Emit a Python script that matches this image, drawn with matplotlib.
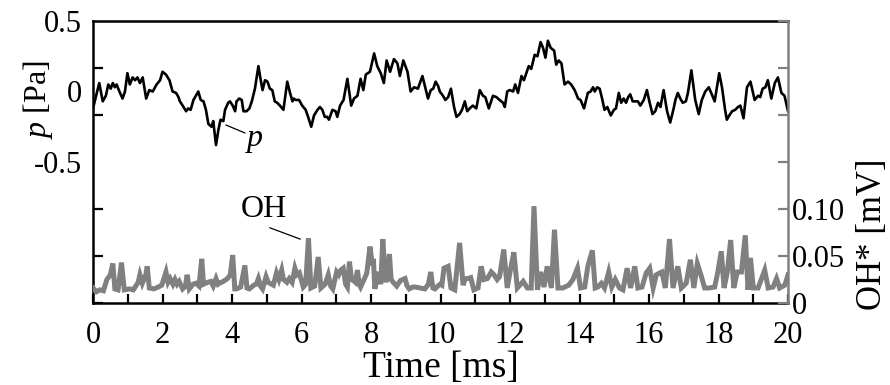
import numpy as np
import matplotlib
matplotlib.use("Agg")
import matplotlib.pyplot as plt

plt.rcParams['font.family'] = ['Liberation Serif', 'DejaVu Serif']
plt.rcParams['mathtext.fontset'] = 'custom'
plt.rcParams['mathtext.it'] = 'Liberation Serif:italic'
plt.rcParams['mathtext.rm'] = 'Liberation Serif'

# pressure trace p [Pa]
p_time = [0.00, 0.18, 0.28, 0.37, 0.44, 0.51, 0.57, 0.63, 0.68, 0.76, 0.85, 0.92, 0.99, 1.06, 1.14, 1.21,
          1.28, 1.35, 1.43, 1.53, 1.62, 1.72, 1.83, 1.93, 2.00, 2.10, 2.20, 2.29, 2.39, 2.46, 2.50, 2.58,
          2.68, 2.74, 2.81, 2.89, 2.96, 3.03, 3.10, 3.18, 3.25, 3.32, 3.41, 3.46, 3.54, 3.61, 3.67, 3.75,
          3.80, 3.89, 3.94, 4.02, 4.09, 4.13, 4.21, 4.28, 4.33, 4.42, 4.50, 4.57, 4.66, 4.76, 4.82, 4.88,
          4.95, 5.02, 5.09, 5.16, 5.23, 5.30, 5.38, 5.48, 5.59, 5.67, 5.74, 5.78, 5.83, 5.93, 6.02, 6.12,
          6.19, 6.28, 6.36, 6.46, 6.53, 6.60, 6.67, 6.74, 6.79, 6.89, 6.98, 7.03, 7.11, 7.21, 7.32, 7.43,
          7.51, 7.61, 7.70, 7.78, 7.85, 7.97, 8.09, 8.18, 8.28, 8.37, 8.45, 8.55, 8.66, 8.76, 8.83, 8.93,
          9.05, 9.14, 9.24, 9.35, 9.48, 9.57, 9.64, 9.72, 9.79, 9.86, 9.93, 9.98, 10.07, 10.14, 10.22, 10.30,
          10.39, 10.46, 10.55, 10.62, 10.70, 10.77, 10.84, 10.93, 11.03, 11.13, 11.22, 11.29, 11.39, 11.51,
          11.61, 11.70, 11.80, 11.85, 11.92, 11.99, 12.09, 12.15, 12.23, 12.33, 12.40, 12.47, 12.54, 12.61,
          12.71, 12.79, 12.88, 12.95, 13.02, 13.09, 13.17, 13.27, 13.33, 13.40, 13.48, 13.57, 13.67, 13.76,
          13.86, 13.96, 14.03, 14.13, 14.24, 14.32, 14.39, 14.44, 14.51, 14.58, 14.65, 14.72, 14.80, 14.90,
          14.99, 15.05, 15.13, 15.20, 15.27, 15.34, 15.40, 15.46, 15.53, 15.61, 15.68, 15.75, 15.85, 15.94,
          16.01, 16.10, 16.18, 16.26, 16.33, 16.42, 16.52, 16.61, 16.71, 16.76, 16.83, 16.90, 16.97, 17.06,
          17.12, 17.22, 17.33, 17.43, 17.52, 17.62, 17.72, 17.79, 17.89, 18.02, 18.10, 18.19, 18.24, 18.31,
          18.39, 18.48, 18.56, 18.63, 18.72, 18.82, 18.92, 19.04, 19.14, 19.20, 19.27, 19.35, 19.42, 19.52,
          19.62, 19.71, 19.81, 19.90, 20.00]
p_val = [-0.12, 0.06, -0.07, -0.03, 0.05, 0.02, 0.06, 0.03, 0.05, 0.00, -0.05, 0.00, 0.13, 0.05, 0.10, 0.08,
         0.10, 0.06, 0.10, -0.05, 0.01, 0.00, 0.05, 0.08, 0.14, 0.12, 0.08, 0.00, -0.01, -0.04, -0.07, -0.10,
         -0.14, -0.12, -0.13, -0.06, -0.03, 0.00, -0.06, -0.07, -0.13, -0.23, -0.25, -0.21, -0.38, -0.27, -0.20, -0.21,
         -0.13, -0.08, -0.07, -0.10, -0.14, -0.07, -0.05, -0.06, -0.14, -0.14, -0.12, -0.07, 0.02, 0.18, 0.09, 0.01,
         0.08, 0.07, 0.02, 0.01, -0.07, -0.08, -0.10, -0.13, 0.07, -0.01, -0.07, -0.05, -0.06, -0.06, -0.10, -0.13,
         -0.18, -0.25, -0.17, -0.13, -0.11, -0.13, -0.18, -0.18, -0.20, -0.13, -0.14, -0.18, -0.10, -0.06, 0.09, -0.10,
         -0.05, -0.03, 0.09, 0.01, 0.12, 0.14, 0.27, 0.18, 0.13, 0.06, 0.22, 0.14, 0.23, 0.20, 0.11, 0.22,
         0.14, 0.00, 0.03, 0.02, 0.11, 0.02, -0.05, 0.01, 0.02, 0.07, 0.04, 0.00, -0.03, -0.06, -0.04, 0.02,
         -0.11, -0.18, -0.16, -0.13, -0.07, -0.14, -0.12, -0.10, -0.12, 0.01, -0.03, -0.04, -0.12, -0.03,
         -0.04, -0.06, -0.08, -0.11, 0.00, 0.01, 0.00, 0.05, -0.01, 0.11, 0.08, 0.13, 0.18, 0.16,
         0.26, 0.25, 0.35, 0.31, 0.24, 0.36, 0.31, 0.29, 0.19, 0.22, 0.20, 0.05, 0.07, 0.05,
         0.01, -0.05, -0.06, -0.12, -0.01, 0.00, 0.03, 0.00, 0.03, 0.02, -0.05, -0.13, -0.11, -0.17,
         -0.13, -0.12, -0.01, -0.08, -0.05, -0.08, -0.04, -0.02, -0.07, -0.07, -0.07, -0.10, -0.06, 0.01,
         -0.07, -0.16, -0.14, -0.08, -0.11, 0.01, -0.14, -0.22, -0.12, -0.06, -0.01, -0.05, -0.08, -0.07,
         -0.01, 0.15, -0.06, -0.16, -0.06, 0.00, 0.03, -0.01, -0.07, 0.13, 0.03, -0.13, -0.20, -0.17,
         -0.14, -0.13, -0.11, -0.10, -0.19, 0.03, 0.07, -0.06, -0.03, -0.04, 0.02, 0.03, 0.08, -0.05,
         0.06, 0.10, -0.01, -0.03, -0.14]

# OH* chemiluminescence [mV]
oh_time = [0.00, 0.10, 0.20, 0.30, 0.40, 0.50, 0.57, 0.63, 0.72, 0.82, 0.90, 1.05, 1.16, 1.30, 1.35, 1.42,
           1.52, 1.56, 1.62, 1.75, 1.88, 1.98, 2.10, 2.16, 2.22, 2.30, 2.36, 2.42, 2.48, 2.58, 2.66, 2.71,
           2.77, 2.88, 2.96, 3.05, 3.13, 3.18, 3.30, 3.39, 3.46, 3.54, 3.60, 3.64, 3.75, 3.87, 3.95, 4.02,
           4.08, 4.13, 4.25, 4.37, 4.43, 4.50, 4.63, 4.70, 4.76, 4.82, 4.88, 4.98, 5.04, 5.09, 5.19, 5.28,
           5.35, 5.43, 5.48, 5.52, 5.58, 5.65, 5.73, 5.81, 5.87, 5.94, 6.05, 6.12, 6.20, 6.27, 6.38, 6.48,
           6.56, 6.68, 6.77, 6.84, 6.90, 7.01, 7.07, 7.13, 7.20, 7.27, 7.32, 7.38, 7.44, 7.49, 7.55, 7.61,
           7.66, 7.70, 7.80, 7.88, 7.97, 8.04, 8.07, 8.11, 8.21, 8.28, 8.34, 8.40, 8.43, 8.53, 8.58, 8.64,
           8.74, 8.85, 8.98, 9.04, 9.10, 9.20, 9.27, 9.41, 9.55, 9.65, 9.72, 9.78, 9.84, 9.92, 9.99,
           10.04, 10.10, 10.22, 10.30, 10.41, 10.55, 10.65, 10.71, 10.79, 10.87, 10.96, 11.08, 11.17, 11.25,
           11.35, 11.46, 11.54, 11.63, 11.70, 11.82, 11.92, 12.02, 12.11, 12.21, 12.38, 12.50, 12.61, 12.69,
           12.79, 12.88, 12.98, 13.07, 13.19, 13.28, 13.38, 13.52, 13.69, 13.81, 13.94, 14.03, 14.15, 14.24,
           14.37, 14.45, 14.53, 14.63, 14.72, 14.84, 14.93, 15.03, 15.15, 15.25, 15.37, 15.47, 15.59, 15.68,
           15.80, 15.92, 16.02, 16.12, 16.21, 16.31, 16.37, 16.47, 16.59, 16.69, 16.83, 16.93, 17.07, 17.19,
           17.29, 17.39, 17.51, 17.60, 17.74, 17.89, 17.98, 18.08, 18.16, 18.25, 18.35, 18.44, 18.54, 18.66,
           18.77, 18.85, 18.92, 19.00, 19.14, 19.33, 19.43, 19.57, 19.67, 19.76, 19.91, 20.00]
oh_val = [0.016, 0.012, 0.014, 0.013, 0.025, 0.030, 0.042, 0.015, 0.014, 0.043, 0.014, 0.015, 0.014, 0.022, 0.030, 0.021,
          0.030, 0.039, 0.016, 0.015, 0.017, 0.019, 0.033, 0.022, 0.026, 0.020, 0.025, 0.020, 0.023, 0.015, 0.018, 0.030,
          0.015, 0.020, 0.021, 0.018, 0.047, 0.020, 0.022, 0.023, 0.018, 0.026, 0.020, 0.021, 0.023, 0.026, 0.030, 0.051,
          0.015, 0.015, 0.017, 0.040, 0.016, 0.015, 0.019, 0.020, 0.026, 0.018, 0.015, 0.028, 0.022, 0.021, 0.019, 0.032,
          0.025, 0.035, 0.025, 0.024, 0.022, 0.026, 0.022, 0.037, 0.030, 0.032, 0.017, 0.020, 0.069, 0.016, 0.018, 0.049,
          0.016, 0.020, 0.030, 0.018, 0.015, 0.033, 0.030, 0.035, 0.037, 0.020, 0.017, 0.044, 0.025, 0.024, 0.022, 0.035,
          0.020, 0.017, 0.025, 0.032, 0.060, 0.040, 0.047, 0.015, 0.033, 0.020, 0.068, 0.030, 0.022, 0.052, 0.025, 0.022,
          0.018, 0.024, 0.026, 0.018, 0.015, 0.017, 0.017, 0.016, 0.015, 0.020, 0.033, 0.016, 0.015, 0.018, 0.020,
          0.019, 0.037, 0.039, 0.016, 0.014, 0.064, 0.019, 0.026, 0.026, 0.027, 0.014, 0.016, 0.039, 0.025,
          0.026, 0.033, 0.030, 0.025, 0.028, 0.057, 0.016, 0.037, 0.054, 0.016, 0.023, 0.016, 0.016, 0.103,
          0.014, 0.033, 0.017, 0.039, 0.016, 0.078, 0.016, 0.016, 0.019, 0.025, 0.037, 0.016, 0.017, 0.039,
          0.056, 0.016, 0.017, 0.021, 0.016, 0.033, 0.017, 0.025, 0.016, 0.014, 0.037, 0.016, 0.039, 0.016,
          0.017, 0.032, 0.037, 0.016, 0.030, 0.032, 0.033, 0.016, 0.068, 0.016, 0.039, 0.016, 0.021, 0.046,
          0.016, 0.042, 0.028, 0.016, 0.016, 0.017, 0.033, 0.055, 0.016, 0.032, 0.067, 0.016, 0.033, 0.033,
          0.072, 0.014, 0.048, 0.016, 0.016, 0.035, 0.016, 0.017, 0.026, 0.016, 0.019, 0.030]

fs = 22
fig = plt.figure(figsize=(8.9, 3.85), dpi=100)
ax = fig.add_axes([93 / 890, 1 - 303 / 385, 695 / 890, 282 / 385])
ax2 = ax.twinx()

ax.plot(p_time, p_val, color='black', lw=1.9, zorder=3)
ax2.plot(oh_time, oh_val, color='#808080', lw=3.6, solid_joinstyle='miter')

ax.set_xlim(0, 20)
ax.set_ylim(-1.5, 0.5)
ax2.set_ylim(0, 0.3)

# x axis
ax.set_xticks(np.arange(0, 21, 2))
ax.set_xticks(np.arange(1, 20, 2), minor=True)
ax.tick_params(axis='x', which='both', direction='in', length=6.5, width=1.6,
               labelsize=fs, pad=13, top=False)
ax.set_xlabel('Time [ms]', fontsize=27, labelpad=0)

# left axis: labels at 0.5, 0, -0.5; tick marks lined up with the right axis
ax.set_yticks([0.5, 0, -0.5], ['0.5', '0', '-0.5'])
ax.set_yticks(np.linspace(-1.5, 0.5, 7), minor=True)
ax.tick_params(axis='y', which='major', length=0, labelsize=fs, pad=8)
ax.tick_params(axis='y', which='minor', direction='in', length=7, width=1.6)

ax2.set_yticks([0, 0.05, 0.10], ['0', '0.05', '0.10'])
ax2.set_yticks([0.15, 0.20, 0.25, 0.30], minor=True)
ax2.tick_params(axis='y', which='both', direction='in', length=7, width=1.6,
                color='#808080', labelsize=fs, pad=3)

for side in ['left', 'top', 'bottom']:
    ax.spines[side].set_linewidth(1.8)
    ax.spines[side].set_color('black')
ax.spines['right'].set_visible(False)
for side in ['left', 'top', 'bottom']:
    ax2.spines[side].set_visible(False)
ax2.spines['right'].set_linewidth(1.8)
ax2.spines['right'].set_color('#808080')

# axis titles
fig.text(38 / 890, 1 - 100 / 385, r'$p$ [Pa]', rotation=90, fontsize=23,
         ha='center', va='center')
fig.text(872 / 890, 1 - 234 / 385, 'OH* [mV]', rotation=90, fontsize=25,
         ha='center', va='center')

# curve labels
ax.plot([3.83, 4.37], [-0.238, -0.294], color='black', lw=0.9)
ax.text(4.66, -0.35, r'$p$', fontsize=23, ha='center', va='center')
ax2.plot([5.09, 5.96], [0.080, 0.068], color='black', lw=0.9)
ax2.text(4.92, 0.099, 'OH', fontsize=23, ha='center', va='center')

fig.savefig('out.png', dpi=100)
